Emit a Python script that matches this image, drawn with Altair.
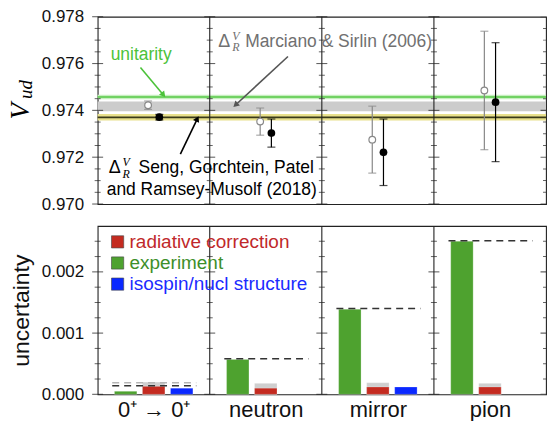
import math
import json
import altair as alt
import pandas as pd

# ---------------- data ----------------
categories = ["0⁺ → 0⁺", "neutron", "mirror", "pion"]

# top panel: V_ud per channel
vud_ms = [0.97422, 0.97352, 0.97275, 0.97485]
err_ms = [0.00018, 0.00058, 0.00143, 0.00253]
vud_sg = [0.97371, 0.97303, 0.97221, 0.97435]
err_sg = [0.00012, 0.00060, 0.00142, 0.00254]

unit_band = [0.97448, 0.97467]
unit_line = 0.97457
ms_band = [0.97396, 0.97438]
sg_band = [0.97357, 0.97385]
sg_line = 0.97370

# bottom panel: uncertainty budget
unc_exp = [0.00005, 0.00057, 0.00139, 0.00250]
unc_rad = [0.00013, 0.00010, 0.00012, 0.00012]
unc_rad_ms = [0.00020, 0.00018, 0.00019, 0.00018]
unc_iso = [0.00010, None, 0.00012, None]
tot_sg = [0.00014, 0.00058, 0.00140, 0.00251]
tot_ms = [0.00019, None, None, None]

legend_labels = ["radiative correction", "experiment", "isospin/nucl structure"]

top_major = [0.970, 0.972, 0.974, 0.976, 0.978]
top_minor = [0.9705, 0.971, 0.9715, 0.9725, 0.973, 0.9735,
             0.9745, 0.975, 0.9755, 0.9765, 0.977, 0.9775]
bot_major = [0.000, 0.001, 0.002]
bot_minor = [0.00025, 0.0005, 0.00075, 0.00125, 0.0015, 0.00175, 0.00225, 0.0025]

# ---------------- layout / style ----------------
W, HT, HB = 450, 188, 169
TOP_DOM = [0.970, 0.978]
BOT_DOM = [0.0, 0.00275]
N = len(categories)
FONT = "Liberation Sans"
SERIF = "Liberation Serif"

GREEN_BAR, RED_BAR, BLUE_BAR, GRAY_BAR = "#4ea22f", "#c42b20", "#0a28ff", "#cfcfcf"
LEG_COLORS = ["#c0282a", "#3d8f2a", "#1b2bff"]
LEG_BAR = [RED_BAR, GREEN_BAR, BLUE_BAR]

top_axis = alt.Axis(values=top_major, format=".3f", ticks=False, tickSize=0, domain=False,
                    grid=False, labelFontSize=17, labelPadding=14, title=None,
                    labelColor="#111", labelFont=FONT)
bot_axis = alt.Axis(values=bot_major, format=".3f", ticks=False, tickSize=0, domain=False,
                    grid=False, labelFontSize=17, labelPadding=14, title="uncertainty",
                    titleFontSize=23, titleFontWeight="normal", titlePadding=8,
                    titleFont=FONT, titleColor="#111", labelColor="#111", labelFont=FONT)
cat_expr = "[" + ",".join(json.dumps(c) for c in categories) + "][floor(datum.value)]"
x_axis = alt.Axis(values=[i + 0.5 for i in range(N)], labelExpr=cat_expr, ticks=False,
                  tickSize=0, domain=False, grid=False, labelFontSize=22, labelPadding=5,
                  title=None, labelColor="#111", labelFont=FONT)


def Xt(f):
    return alt.X(f, type="quantitative",
                 scale=alt.Scale(domain=[0, N], nice=False, zero=False), axis=None)


def Xb(f):
    return alt.X(f, type="quantitative",
                 scale=alt.Scale(domain=[0, N], nice=False, zero=False), axis=x_axis)


def Yt(f):
    return alt.Y(f, type="quantitative",
                 scale=alt.Scale(domain=TOP_DOM, nice=False, zero=False), axis=top_axis)


def Yb(f):
    return alt.Y(f, type="quantitative",
                 scale=alt.Scale(domain=BOT_DOM, nice=False, zero=False), axis=bot_axis)


def txt(X, Y, x, y, s, dx=0, dy=0, **kw):
    base = dict(font=FONT, fontSize=17.5, align="left", baseline="middle")
    base.update(kw)
    return alt.Chart(pd.DataFrame({"x": [x], "y": [y], "t": [s]})).mark_text(
        dx=dx, dy=dy, **base).encode(x=X("x"), y=Y("y"), text="t:N")


def arrow(X, Y, dom, H, x1, y1, x2, y2, color):
    df = pd.DataFrame({"x": [x1], "y": [y1], "x2": [x2], "y2": [y2]})
    line = alt.Chart(df).mark_rule(color=color, strokeWidth=1.6).encode(
        x=X("x"), y=Y("y"), x2="x2", y2="y2")
    dxp = (x2 - x1) * W / N
    dyp = -(y2 - y1) * H / (dom[1] - dom[0])
    ang = math.degrees(math.atan2(dxp, -dyp)) % 360
    head = alt.Chart(pd.DataFrame({"x": [x2], "y": [y2]})).mark_point(
        shape="triangle-up", filled=True, color=color, size=45, angle=ang,
        opacity=1).encode(x=X("x"), y=Y("y"))
    return [line, head]


def tick_layers(X, Y, major, minor):
    inner = list(range(N))
    dmaj = pd.DataFrame([(d, v) for d in inner for v in major], columns=["x", "y"])
    dmin = pd.DataFrame([(d, v) for d in inner for v in minor], columns=["x", "y"])
    emaj = pd.DataFrame([(N, v) for v in major], columns=["x", "y"])
    emin = pd.DataFrame([(N, v) for v in minor], columns=["x", "y"])
    lmaj = alt.Chart(dmaj).mark_tick(orient="horizontal", size=11, thickness=1.1,
                                     color="#222").encode(x=X("x"), y=Y("y"))
    lmin = alt.Chart(dmin).mark_tick(orient="horizontal", size=6, thickness=1,
                                     color="#222").encode(x=X("x"), y=Y("y"))
    rmaj = alt.Chart(emaj).mark_tick(orient="horizontal", size=11, thickness=1.1,
                                     color="#222", clip=True).encode(x=X("x"), y=Y("y"))
    rmin = alt.Chart(emin).mark_tick(orient="horizontal", size=6, thickness=1,
                                     color="#222", clip=True).encode(x=X("x"), y=Y("y"))
    div = alt.Chart(pd.DataFrame({"x": inner[1:]})).mark_rule(
        color="#222", strokeWidth=1.1).encode(x=X("x"))
    return [div, lmaj, lmin, rmaj, rmin]


# ---------------- top panel ----------------
bands = pd.DataFrame({
    "x": [0, 0, 0], "x2": [N, N, N],
    "lo": [ms_band[0], unit_band[0], sg_band[0]],
    "hi": [ms_band[1], unit_band[1], sg_band[1]],
    "c": ["#cccccc", "#c6efbf", "#e8e08c"],
})
band_layer = alt.Chart(bands).mark_rect().encode(
    x=Xt("x"), x2="x2", y=Yt("lo"), y2="hi", color=alt.Color("c:N", scale=None))
lines = pd.DataFrame({"x": [0, 0], "x2": [N, N], "y": [unit_line, sg_line],
                      "c": ["#55c845", "#3a3a1a"]})
line_layer = alt.Chart(lines).mark_rule(strokeWidth=1.6).encode(
    x=Xt("x"), x2="x2", y=Yt("y"), color=alt.Color("c:N", scale=None))

pts = pd.DataFrame({
    "x": [i + 0.45 for i in range(N)] + [i + 0.55 for i in range(N)],
    "v": vud_ms + vud_sg,
    "lo": [v - e for v, e in zip(vud_ms, err_ms)] + [v - e for v, e in zip(vud_sg, err_sg)],
    "hi": [v + e for v, e in zip(vud_ms, err_ms)] + [v + e for v, e in zip(vud_sg, err_sg)],
    "c": ["#888888"] * N + ["#000000"] * N,
    "kind": ["ms"] * N + ["sg"] * N,
})
err_layer = alt.Chart(pts).mark_rule(strokeWidth=1.2).encode(
    x=Xt("x"), y=Yt("lo"), y2="hi", color=alt.Color("c:N", scale=None))
cap_lo = alt.Chart(pts).mark_tick(orient="horizontal", size=8, thickness=1.2).encode(
    x=Xt("x"), y=Yt("lo"), color=alt.Color("c:N", scale=None))
cap_hi = alt.Chart(pts).mark_tick(orient="horizontal", size=8, thickness=1.2).encode(
    x=Xt("x"), y=Yt("hi"), color=alt.Color("c:N", scale=None))
open_pts = alt.Chart(pts).transform_filter("datum.kind == 'ms'").mark_point(
    shape="circle", filled=True, fill="white", stroke="#888888", strokeWidth=1.2,
    size=45, opacity=1).encode(x=Xt("x"), y=Yt("v"))
full_pts = alt.Chart(pts).transform_filter("datum.kind == 'sg'").mark_point(
    shape="circle", filled=True, color="black", size=60, opacity=1).encode(
    x=Xt("x"), y=Yt("v"))

ann = []
ann.append(txt(Xt, Yt, 0.116, 0.97638, "unitarity", color="#4cc23a"))
ann += arrow(Xt, Yt, TOP_DOM, HT, 0.382, 0.97583, 0.587, 0.97466, "#4cc23a")
# Marciano & Sirlin
mx, my = 1.076, 0.97694
ann.append(txt(Xt, Yt, mx, my, "Δ", color="#707070", fontSize=18))
ann.append(txt(Xt, Yt, mx, my, "V", dx=14, dy=-6, color="#707070", fontSize=12,
               font=SERIF, fontStyle="italic"))
ann.append(txt(Xt, Yt, mx, my, "R", dx=14, dy=6, color="#707070", fontSize=12,
               font=SERIF, fontStyle="italic"))
ann.append(txt(Xt, Yt, mx, my, "Marciano & Sirlin (2006)", dx=27, color="#707070"))
ann += arrow(Xt, Yt, TOP_DOM, HT, 1.698, 0.97630, 1.230, 0.97423, "#555555")
# Seng et al.
sx, sy = 0.098, 0.97153
ann.append(txt(Xt, Yt, sx, sy, "Δ", color="black", fontSize=18))
ann.append(txt(Xt, Yt, sx, sy, "V", dx=14, dy=-6, color="black", fontSize=12,
               font=SERIF, fontStyle="italic"))
ann.append(txt(Xt, Yt, sx, sy, "R", dx=14, dy=6, color="black", fontSize=12,
               font=SERIF, fontStyle="italic"))
ann.append(txt(Xt, Yt, sx, sy, "Seng, Gorchtein, Patel", dx=30, color="black"))
ann.append(txt(Xt, Yt, 1.018, 0.97060, "and Ramsey-Musolf (2018)", color="black",
               align="center"))
ann += arrow(Xt, Yt, TOP_DOM, HT, 0.738, 0.97213, 0.889, 0.97364, "#000000")

vtitle = [
    alt.Chart(pd.DataFrame({"t": ["V"]})).mark_text(
        font=SERIF, fontStyle="italic", fontSize=27, angle=270, align="center",
        baseline="middle", color="black").encode(
        x=alt.value(-77), y=alt.value(95), text="t:N"),
    alt.Chart(pd.DataFrame({"t": ["ud"]})).mark_text(
        font=SERIF, fontStyle="italic", fontSize=19, angle=270, align="center",
        baseline="middle", color="black").encode(
        x=alt.value(-72), y=alt.value(73), text="t:N"),
]

top = alt.layer(
    band_layer, line_layer,
    *tick_layers(Xt, Yt, top_major, top_minor),
    err_layer, cap_lo, cap_hi, open_pts, full_pts,
    *ann, *vtitle,
).properties(width=W, height=HT)

# ---------------- bottom panel ----------------
rows = []
for i in range(N):
    rows.append(("ms", i + 0.5, unc_rad_ms[i], GRAY_BAR, 0))
    rows.append(("exp", i + 0.25, unc_exp[i], GREEN_BAR, 1))
    rows.append(("rad", i + 0.5, unc_rad[i], RED_BAR, 1))
    if unc_iso[i] is not None:
        rows.append(("iso", i + 0.75, unc_iso[i], BLUE_BAR, 1))
bars = pd.DataFrame(rows, columns=["kind", "xc", "v", "c", "o"])
bars["x"] = bars["xc"] - 0.1
bars["x2"] = bars["xc"] + 0.1
bars["z"] = 0.0
bar_layer = alt.Chart(bars).mark_rect(stroke="white", strokeWidth=0.6,
                                      strokeOpacity=0.4).encode(
    x=Xb("x"), x2="x2", y=Yb("z"), y2="v",
    color=alt.Color("c:N", scale=None), order="o:Q")

dash_rows = []
for i in range(N):
    if tot_ms[i] is not None:
        dash_rows.append((i + 0.13, i + 0.88, tot_ms[i], "#b5b5b5", 0))
    dash_rows.append((i + 0.13, i + 0.88, tot_sg[i], "#333333", 1))
dashes = pd.DataFrame(dash_rows, columns=["x", "x2", "y", "c", "o"])
dash_layer = alt.Chart(dashes).mark_rule(strokeDash=[7, 5], strokeWidth=1.5).encode(
    x=Xb("x"), x2="x2", y=Yb("y"), color=alt.Color("c:N", scale=None))

leg_y = [0.00249, 0.002145, 0.0018]
leg = pd.DataFrame({"x": [0.178] * 3, "y": leg_y, "t": legend_labels,
                    "c": LEG_COLORS, "b": LEG_BAR})
leg_sq = alt.Chart(leg).mark_square(size=150, opacity=1, stroke="#444",
                                    strokeWidth=0.6).encode(
    x=Xb("x"), y=Yb("y"), fill=alt.Fill("b:N", scale=None))
leg_tx = alt.Chart(leg).mark_text(font=FONT, fontSize=19, align="left",
                                  baseline="middle", dx=12).encode(
    x=Xb("x"), y=Yb("y"), text="t:N", color=alt.Color("c:N", scale=None))

bottom = alt.layer(
    *tick_layers(Xb, Yb, bot_major, bot_minor),
    bar_layer, dash_layer, leg_sq, leg_tx,
).properties(width=W, height=HB)

chart = alt.vconcat(top, bottom, spacing=22, bounds="flush").properties(
    padding={"left": 6, "top": 6, "right": 0, "bottom": 0},
).configure_view(stroke="#222", strokeWidth=1.1)

chart.save("out.html", embed_options={"renderer": "svg", "actions": False})
